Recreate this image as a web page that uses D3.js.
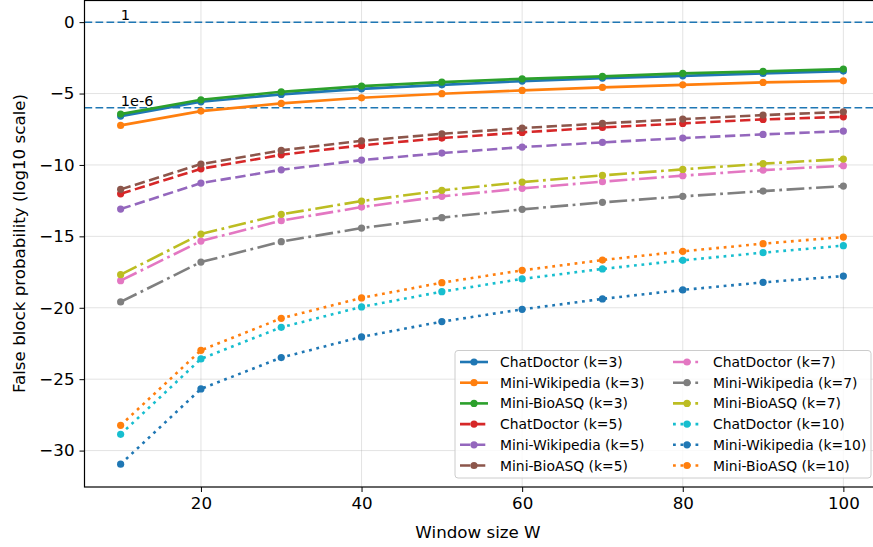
<!DOCTYPE html>
<html>
<head>
<meta charset="utf-8">
<script src="https://cdn.jsdelivr.net/npm/d3@7"></script>
<style>
  html, body { margin: 0; padding: 0; background: #fff; }
  svg { display: block; font-family: "DejaVu Sans", sans-serif; }
</style>
</head>
<body>
<svg id="chart" width="873" height="547"></svg>
<script>
// ---------- data ----------
const windowSizes = [10, 20, 30, 40, 50, 60, 70, 80, 90, 100];

const chatDoctorK3   = [-6.58, -5.58, -5.06, -4.67, -4.39, -4.13, -3.92, -3.76, -3.59, -3.43];
const miniWikiK3     = [-7.23, -6.23, -5.69, -5.30, -5.01, -4.78, -4.57, -4.39, -4.22, -4.11];
const miniBioK3      = [-6.44, -5.44, -4.88, -4.48, -4.20, -3.97, -3.80, -3.59, -3.45, -3.29];

const chatDoctorK5   = [-12.02, -10.27, -9.29, -8.63, -8.12, -7.72, -7.37, -7.09, -6.81, -6.63];
const miniWikiK5     = [-13.09, -11.27, -10.34, -9.66, -9.17, -8.75, -8.42, -8.12, -7.86, -7.63];
const miniBioK5      = [-11.71, -9.94, -8.98, -8.31, -7.82, -7.42, -7.09, -6.79, -6.51, -6.28];

const chatDoctorK7   = [-18.10, -15.33, -13.90, -12.95, -12.20, -11.64, -11.17, -10.75, -10.36, -10.05];
const miniWikiK7     = [-19.59, -16.80, -15.37, -14.42, -13.69, -13.11, -12.62, -12.20, -11.83, -11.48];
const miniBioK7      = [-17.68, -14.84, -13.46, -12.53, -11.78, -11.20, -10.73, -10.31, -9.91, -9.59];

const chatDoctorK10  = [-28.86, -23.58, -21.37, -19.94, -18.87, -17.98, -17.28, -16.68, -16.14, -15.65];
const miniWikiK10    = [-30.95, -25.68, -23.49, -22.04, -20.97, -20.11, -19.38, -18.75, -18.22, -17.78];
const miniBioK10     = [-28.23, -22.98, -20.74, -19.31, -18.24, -17.38, -16.66, -16.05, -15.51, -15.05];

const seriesLabels = [
  "ChatDoctor (k=3)", "Mini-Wikipedia (k=3)", "Mini-BioASQ (k=3)",
  "ChatDoctor (k=5)", "Mini-Wikipedia (k=5)", "Mini-BioASQ (k=5)",
  "ChatDoctor (k=7)", "Mini-Wikipedia (k=7)", "Mini-BioASQ (k=7)",
  "ChatDoctor (k=10)", "Mini-Wikipedia (k=10)", "Mini-BioASQ (k=10)"
];
const seriesValues = [
  chatDoctorK3, miniWikiK3, miniBioK3,
  chatDoctorK5, miniWikiK5, miniBioK5,
  chatDoctorK7, miniWikiK7, miniBioK7,
  chatDoctorK10, miniWikiK10, miniBioK10
];

const xTicks = [20, 40, 60, 80, 100];
const yTicks = [0, -5, -10, -15, -20, -25, -30];
const refLines = [0, -6];
const refLabels = ["1", "1e-6"];

// ---------- styles ----------
const colors = ["#1f77b4", "#ff7f0e", "#2ca02c", "#d62728", "#9467bd", "#8c564b",
                "#e377c2", "#7f7f7f", "#bcbd22", "#17becf", "#1f77b4", "#ff7f0e"];
const dashFor = k => k === 0 ? null : k === 1 ? "10.4,4.5" : k === 2 ? "17.8,4.5,2.8,4.5" : "2.8,4.7";

const svg = d3.select("#chart");
const x = d3.scaleLinear().domain([5.5, 104.5]).range([84.5, 879.5]);
const y = d3.scaleLinear().domain([-32.55, 1.55]).range([487, 0]);

// grid
const grid = svg.append("g");
grid.selectAll(".gx").data(xTicks).enter().append("line")
  .attr("x1", d => x(d)).attr("x2", d => x(d)).attr("y1", y(1.55)).attr("y2", y(-32.55))
  .attr("stroke", "#b0b0b0").attr("stroke-opacity", 0.35).attr("stroke-width", 1);
grid.selectAll(".gy").data(yTicks).enter().append("line")
  .attr("x1", x(5.5)).attr("x2", x(104.5)).attr("y1", d => y(d)).attr("y2", d => y(d))
  .attr("stroke", "#b0b0b0").attr("stroke-opacity", 0.35).attr("stroke-width", 1);

// reference lines
svg.append("g").selectAll("line").data(refLines).enter().append("line")
  .attr("x1", x(5.5)).attr("x2", x(104.5)).attr("y1", d => y(d)).attr("y2", d => y(d))
  .attr("stroke", "#1f77b4").attr("stroke-width", 1.5).attr("stroke-dasharray", "7.7,3.3");
svg.append("g").selectAll("text").data(refLines).enter().append("text")
  .attr("x", x(10)).attr("y", d => y(d + 0.15))
  .attr("font-size", 14.6).attr("fill", "#000")
  .text((d, i) => refLabels[i]);

// series
const line = d3.line().x((d, i) => x(windowSizes[i])).y(d => y(d));
const seriesG = svg.append("g");
seriesValues.forEach((vals, s) => {
  const g = seriesG.append("g");
  const group = Math.floor(s / 3);
  g.append("path").attr("d", line(vals))
    .attr("fill", "none").attr("stroke", colors[s]).attr("stroke-width", 2.6)
    .attr("stroke-dasharray", dashFor(group));
  g.selectAll("circle").data(vals).enter().append("circle")
    .attr("cx", (d, i) => x(windowSizes[i])).attr("cy", d => y(d)).attr("r", 3.6)
    .attr("fill", colors[s]);
});

// axes
const xAxis = d3.axisBottom(x).tickValues(xTicks).tickSize(5).tickPadding(5).tickFormat(d3.format("d"));
const yAxis = d3.axisLeft(y).tickValues(yTicks).tickSize(5).tickPadding(5)
  .tickFormat(d => d < 0 ? "\u2212" + Math.abs(d) : String(d));
const gx = svg.append("g").attr("transform", `translate(0,${y(-32.55)})`).call(xAxis);
const gy = svg.append("g").attr("transform", `translate(${x(5.5)},0)`).call(yAxis);
[gx, gy].forEach(g => {
  g.select(".domain").remove();
  g.selectAll("text").attr("font-size", 16.7).attr("font-family", "DejaVu Sans").attr("fill", "#000");
  g.selectAll("line").attr("stroke", "#000").attr("stroke-width", 1);
});

// frame
svg.append("rect").attr("x", x(5.5)).attr("y", 0.5)
  .attr("width", x(104.5) - x(5.5)).attr("height", y(-32.55) - 0.5)
  .attr("fill", "none").attr("stroke", "#000").attr("stroke-width", 1.2);

// axis labels
svg.append("text").attr("x", 478).attr("y", 538).attr("text-anchor", "middle")
  .attr("font-size", 16.7).text("Window size W");
svg.append("text").attr("transform", `translate(25,${y(-15.5)}) rotate(-90)`)
  .attr("text-anchor", "middle").attr("font-size", 16.7)
  .text("False block probability (log10 scale)");

// legend
const leg = svg.append("g");
leg.append("rect").attr("x", 455).attr("y", 350.5).attr("width", 416).attr("height", 127.5)
  .attr("rx", 3).attr("fill", "#fff").attr("fill-opacity", 0.8)
  .attr("stroke", "#cccccc").attr("stroke-width", 1);
seriesLabels.forEach((lab, s) => {
  const col = Math.floor(s / 6), row = s % 6;
  const group = Math.floor(s / 3);
  const hx = col === 0 ? 460 : 673, ty = 362 + row * 20.7;
  const it = leg.append("g");
  it.append("line").attr("x1", hx).attr("x2", hx + 28).attr("y1", ty).attr("y2", ty)
    .attr("stroke", colors[s]).attr("stroke-width", 2.6).attr("stroke-dasharray", dashFor(group));
  it.append("circle").attr("cx", hx + 14).attr("cy", ty).attr("r", 3.6).attr("fill", colors[s]);
  it.append("text").attr("x", hx + 40).attr("y", ty + 5).attr("font-size", 13.9).attr("fill", "#000").text(lab);
});
</script>
</body>
</html>
